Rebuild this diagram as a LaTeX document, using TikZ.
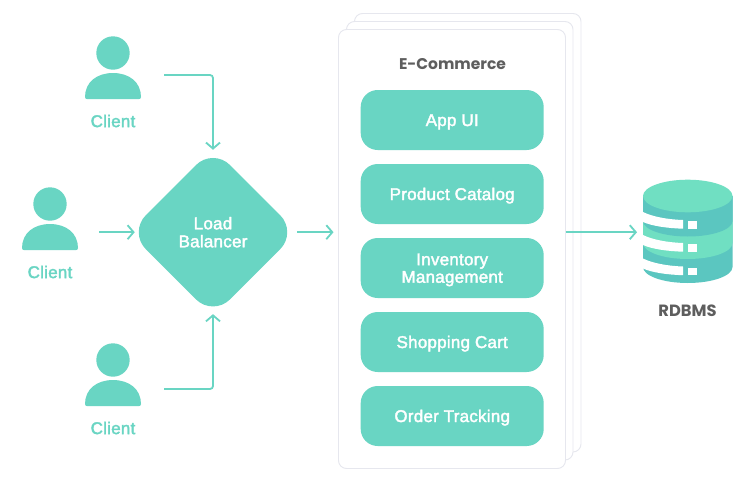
\documentclass[tikz,border=0pt]{standalone}
\usepackage{fontspec}
\setmainfont{Liberation Sans}[FakeBold=2.2,LetterSpace=1.4]
\newfontfamily\titlefont{Poppins}
\usetikzlibrary{shapes.geometric,arrows.meta}
\definecolor{teal1}{HTML}{69D5C3}
\definecolor{dbdark}{HTML}{5BC6C0}
\definecolor{dblight}{HTML}{70DFC2}
\definecolor{cardline}{HTML}{E6E7EE}
\definecolor{titlegray}{HTML}{5E5E5E}
\tikzset{
  card/.style={draw=cardline,fill=white,line width=0.9pt,rounded corners=8pt},
  rowbox/.style={fill=teal1,rounded corners=17pt,minimum width=183pt,minimum height=60pt,inner sep=0pt,text=white,font=\fontsize{17}{18}\selectfont,align=center},
  oneline/.style={text height=13pt,text depth=1pt},
  lbnode/.style={shape=diamond,fill=teal1,rounded corners=24pt,minimum width=168.5pt,minimum height=168.5pt,inner sep=0pt,text=white,font=\fontsize{17}{18}\selectfont,align=center},
  personbox/.style={minimum width=56pt,minimum height=20pt,inner sep=0pt},
  clientlabel/.style={text=teal1,font=\fontsize{17}{18}\selectfont,inner sep=0pt},
  titlelabel/.style={text=titlegray,font=\titlefont\fontsize{15.5}{18}\selectfont\bfseries,inner sep=0pt},
  dblabel/.style={titlelabel,font=\titlefont\fontsize{16.3}{18}\selectfont\bfseries},
  link/.style={draw=teal1,line width=1.8pt,-{Straight Barb[length=6pt,width=14pt,line width=1.8pt]},rounded corners=3pt},
}
\newcommand{\drawperson}[3]{%
  \fill[teal1] (#1,#2) circle[radius=16.7];
  \fill[teal1] ({#1-28},{#3-2}) .. controls ({#1-28},{#3-17}) and ({#1-16},{#3-26}) .. (#1,{#3-26})
     .. controls ({#1+16},{#3-26}) and ({#1+28},{#3-17}) .. ({#1+28},{#3-2})
     .. controls ({#1+28},{#3-0.5}) and ({#1+27},#3) .. ({#1+26},#3) -- ({#1-26},#3)
     .. controls ({#1-27},#3) and ({#1-28},{#3-0.5}) .. ({#1-28},{#3-2}) -- cycle;
}
\newcommand{\dbbar}[1]{%
  \fill[white] (643,{#1+212}) .. controls (652,{#1+216.5}) and (667,{#1+219.5}) .. (683,{#1+220})
    -- (683,{#1+228.7}) .. controls (667,{#1+228.2}) and (652,{#1+226}) .. (643,{#1+222}) -- cycle;
  \fill[white] (688,{#1+221}) rectangle (697,{#1+228.7});
}
\begin{document}
\begin{tikzpicture}[x=1pt,y=-1pt]
\useasboundingbox (0,0) rectangle (740,485);
\fill[white] (0,0) rectangle (740,485);
% cards
\draw[card] (354.5,13.5) rectangle (581,452);
\draw[card] (346.5,21.5) rectangle (573,460);
\draw[card] (338.5,29.5) rectangle (565.5,468.5);
\node[titlelabel] (title) at (452.5,64) {E-Commerce};
\node[rowbox,oneline] (r1) at (452.2,120) {App UI};
\node[rowbox,oneline] (r2) at (452.2,194) {Product Catalog};
\node[rowbox] (r3) at (452.2,268) {\rule{0pt}{15.5pt}Inventory\\[-0.5pt]Management};
\node[rowbox,oneline] (r4) at (452.2,342) {Shopping Cart};
\node[rowbox,oneline] (r5) at (452.2,416) {Order Tracking};
% load balancer
\node[lbnode] (lb) at (213,232.2) {Load\\Balancer};
% clients
\drawperson{113}{53}{99}
\drawperson{50}{204}{250}
\drawperson{113}{360}{406}
\node[personbox] (c1) at (113,75) {};
\node[personbox] (c2) at (50,232.2) {};
\node[personbox] (c3) at (113,389) {};
\node[clientlabel] (l1) at (113,121) {Client};
\node[clientlabel] (l2) at (50,272) {Client};
\node[clientlabel] (l3) at (113,428) {Client};
% database
\coordinate (dbin) at (643,232.2);
\coordinate (cardout) at (565.5,232.2);
\coordinate (cardin) at (338.5,232.2);
\fill[dbdark] (643,196) -- (732.5,196) -- (732.5,267) arc[start angle=0,end angle=180,x radius=44.75,y radius=16] -- cycle;
\fill[dblight] (643,221) -- (732.5,221) -- (732.5,243) arc[start angle=0,end angle=180,x radius=44.75,y radius=16] -- cycle;
\fill[dbdark] (643,196) -- (732.5,196) -- (732.5,221) arc[start angle=0,end angle=180,x radius=44.75,y radius=15.5] -- cycle;
\fill[dblight] (643,196) arc[start angle=180,end angle=-180,x radius=44.75,y radius=16.3];
\dbbar{0}
\dbbar{23}
\dbbar{46.5}
\node[dblabel] (dbl) at (687.5,311) {RDBMS};
% connectors
\draw[link,shorten <=23pt,shorten >=-2pt] (c1.east) -| (lb.north);
\draw[link,shorten <=21pt,shorten >=-6.2pt] (c2.east) -- (lb.west);
\draw[link,shorten <=23pt,shorten >=-2.5pt] (c3.east) -| (lb.south);
\draw[link,shorten >=5pt] (lb.east) -- (cardin);
\draw[link,shorten >=6pt] (cardout) -- (dbin);
\end{tikzpicture}
\end{document}
